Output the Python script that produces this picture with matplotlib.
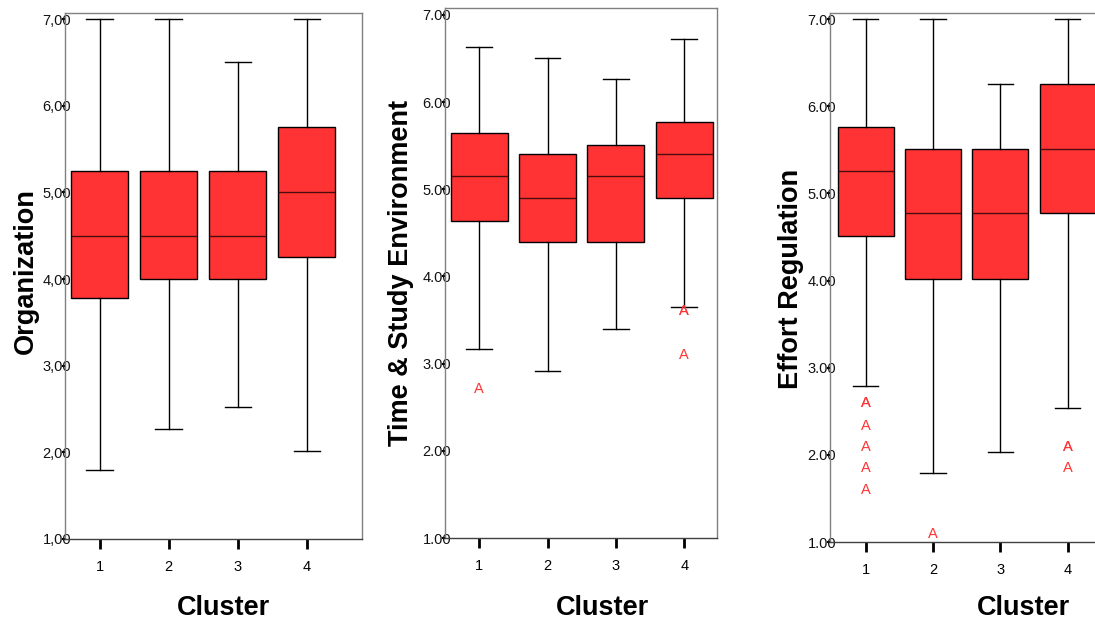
import matplotlib
matplotlib.use("Agg")
import matplotlib.pyplot as plt

plt.rcParams['font.family'] = ['Liberation Sans', 'DejaVu Sans']

clusters = [1, 2, 3, 4]
cluster_labels = ["1", "2", "3", "4"]
ytick_vals = [1, 2, 3, 4, 5, 6, 7]

# Organization
org_q1 = [3.78, 4.00, 4.00, 4.25]
org_med = [4.50, 4.50, 4.50, 5.00]
org_q3 = [5.25, 5.25, 5.25, 5.75]
org_lo = [1.80, 2.27, 2.52, 2.02]
org_hi = [7.00, 7.00, 6.50, 7.00]
org_out = [[], [], [], []]
org_ticklabels = ["1,00", "2,00", "3,00", "4,00", "5,00", "6,00", "7,00"]

# Time & Study Environment
tse_q1 = [4.64, 4.40, 4.40, 4.90]
tse_med = [5.15, 4.90, 5.15, 5.40]
tse_q3 = [5.65, 5.40, 5.51, 5.77]
tse_lo = [3.17, 2.92, 3.40, 3.65]
tse_hi = [6.63, 6.51, 6.27, 6.72]
tse_out = [[2.71], [], [], [3.60, 3.60, 3.10]]
tse_ticklabels = ["1.00", "2.00", "3.00", "4.00", "5.00", "6.00", "7.00"]

# Effort Regulation
er_q1 = [4.51, 4.02, 4.02, 4.77]
er_med = [5.26, 4.77, 4.77, 5.51]
er_q3 = [5.76, 5.51, 5.51, 6.25]
er_lo = [2.79, 1.79, 2.03, 2.54]
er_hi = [7.00, 7.00, 6.25, 7.00]
er_out = [[2.59, 2.59, 2.33, 2.09, 1.85, 1.60], [1.09], [], [2.09, 2.09, 1.85]]
er_ticklabels = ["1.00", "2.00", "3.00", "4.00", "5.00", "6.00", "7.00"]

panels = [
    dict(name="Organization", q1=org_q1, med=org_med, q3=org_q3, lo=org_lo, hi=org_hi,
         out=org_out, tl=org_ticklabels,
         pos=(65, 13, 362, 539), ylim=(1.0, 7.07), xlim=(0.5, 4.8),
         ylab=(-0.132, 0.51), xlab=(0.535, -0.131)),
    dict(name="Time & Study Environment", q1=tse_q1, med=tse_med, q3=tse_q3, lo=tse_lo, hi=tse_hi,
         out=tse_out, tl=tse_ticklabels,
         pos=(445, 8, 717, 538), ylim=(1.0, 7.08), xlim=(0.5, 4.48),
         ylab=(-0.16, 0.50), xlab=(0.58, -0.132)),
    dict(name="Effort Regulation", q1=er_q1, med=er_med, q3=er_q3, lo=er_lo, hi=er_hi,
         out=er_out, tl=er_ticklabels,
         pos=(830, 13, 1100, 542), ylim=(1.0, 7.07), xlim=(0.47, 4.48),
         ylab=(-0.145, 0.497), xlab=(0.715, -0.125)),
]

W, H = 1095, 621
fig = plt.figure(figsize=(W / 100, H / 100), dpi=100)

fill = '#FF3333'
for p in panels:
    l, t, r, b = p['pos']
    ax = fig.add_axes([l / W, 1 - b / H, (r - l) / W, (b - t) / H])
    stats = []
    for i in range(4):
        stats.append(dict(q1=p['q1'][i], med=p['med'][i], q3=p['q3'][i],
                          whislo=p['lo'][i], whishi=p['hi'][i], fliers=[]))
    ax.bxp(stats, positions=clusters, widths=0.83, patch_artist=True,
           showfliers=False, capwidths=0.38,
           boxprops=dict(facecolor=fill, edgecolor='black', linewidth=1.0),
           medianprops=dict(color='#4a0c0c', linewidth=1.0),
           whiskerprops=dict(color='black', linewidth=1.0),
           capprops=dict(color='black', linewidth=1.0))
    for i, vals in enumerate(p['out']):
        for v in vals:
            ax.text(clusters[i], v, 'A', color='#FF3333', fontsize=10.5,
                    ha='center', va='center')
    ax.set_xlim(*p['xlim'])
    ax.set_ylim(*p['ylim'])
    ax.set_xticks(clusters)
    ax.set_xticklabels(cluster_labels, fontsize=10.5)
    ax.set_yticks(ytick_vals)
    ax.set_yticklabels(p['tl'], fontsize=10.5)
    ax.tick_params(axis='x', direction='out', length=7, width=2, pad=8, colors='black')
    ax.tick_params(axis='y', direction='out', length=2, width=1.5, pad=-6.5, colors='black')
    for lab in ax.get_yticklabels():
        lab.set_color('#111111')
    for s in ['left', 'top', 'right']:
        ax.spines[s].set_color('#808080')
        ax.spines[s].set_linewidth(1.0)
    ax.spines['bottom'].set_color('#404040')
    ax.spines['bottom'].set_linewidth(1.0)
    ax.set_ylabel(p['name'], fontsize=19.5, fontweight='bold')
    ax.yaxis.set_label_coords(*p['ylab'])
    ax.yaxis.label.set_va('center')
    ax.set_xlabel('Cluster', fontsize=19.5, fontweight='bold')
    ax.xaxis.set_label_coords(*p['xlab'])
    ax.xaxis.label.set_va('center')

fig.savefig('out.png', dpi=100)
